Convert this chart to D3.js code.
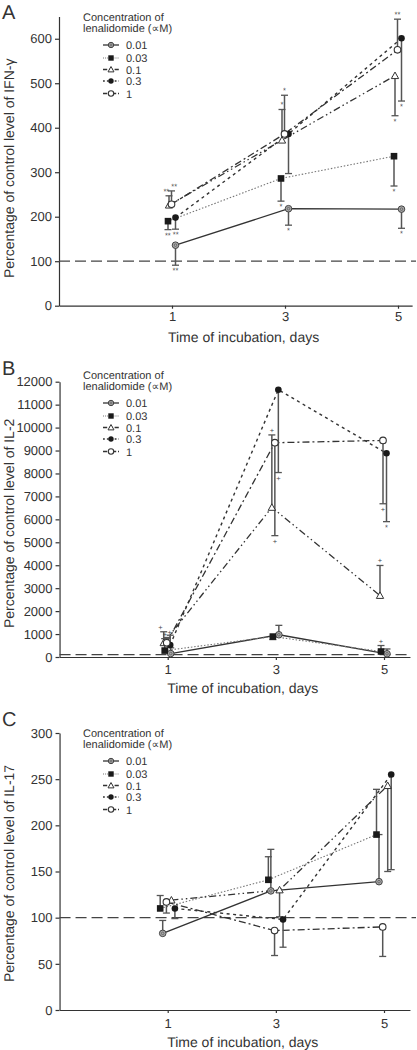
<!DOCTYPE html>
<html>
<head>
<meta charset="utf-8">
<script src="https://cdn.jsdelivr.net/npm/d3@7"></script>
<style>
  html, body { margin: 0; padding: 0; background: #fff; }
  svg { display: block; font-family: "Liberation Sans", Arial, sans-serif; }
  text { text-rendering: geometricPrecision; }
  .sig { opacity: 0.99; }
</style>
</head>
<body>
<svg id="chart" width="417" height="1050"></svg>
<script>
// ---------------- DATA ----------------
const days = [1, 3, 5];
const concentrations = ["0.01", "0.03", "0.1", "0.3", "1"];
const legendTitle = ["Concentration of", "lenalidomide (\u221DM)"];
const xTitle = "Time of incubation, days";

// Panel A: IFN-gamma (rows follow concentrations, columns follow days)
const ifnValues = [[136, 218, 217], [190, 286, 336], [226, 372, 517], [198, 386, 601], [228, 386, 575]];
const ifnErrEnd = [[91, 181, 174], [171, 235, 269], [247, 441, 427], [172, 297, 460], [258, 473, 644]];
const ifnSig = [["**", "*", "*"], ["**", "*", "*"], ["**", "*", "*"], ["**", "", "*"], ["**", "*", "**"]];
const ifnTicks = [0, 100, 200, 300, 400, 500, 600];

// Panel B: IL-2
const il2Values = [[150, 970, 140], [280, 890, 240], [620, 6520, 2680], [520, 11650, 8880], [620, 9340, 9440]];
const il2ErrEnd = [[400, 1380, 350], [800, 760, 500], [1100, 9680, 3990], [950, 8040, 5900], [850, 5290, 6680]];
const il2Sig = [["", "", ""], ["+", "", "+"], ["+", "+", "+"], ["", "+", "*"], ["+", "+", "+"]];
const il2Ticks = [0, 1000, 2000, 3000, 4000, 5000, 6000, 7000, 8000, 9000, 10000, 11000, 12000];

// Panel C: IL-17
const il17Values = [[83, 129, 139], [110, 141, 190], [119, 130, 243], [110, 98, 255], [117, 86, 90]];
const il17ErrEnd = [[97, 174, 190], [124, 166, 239], [null, 101, 150], [99, 68, 152], [105, 59, 58]];
const il17Sig = [["", "", ""], ["", "", ""], ["", "", ""], ["", "", ""], ["", "", ""]];
const il17Ticks = [0, 50, 100, 150, 200, 250, 300];

const controlLevel = 100;

// ---------------- STYLE / LAYOUT ----------------
const ink = "#333";
const seriesStyle = [
  { dash: null, color: "#333", width: 1.3, marker: "gcircle" },
  { dash: "1.5,1.8", color: "#777", width: 1.1, marker: "square" },
  { dash: "7,3,1.5,3,1.5,3", color: "#333", width: 1.3, marker: "triangle" },
  { dash: "3,3.5", color: "#333", width: 1.4, marker: "fcircle" },
  { dash: "7,3,2,3", color: "#333", width: 1.3, marker: "ocircle" }
];

const panels = [
  { letter: "A", letterY: 19, values: ifnValues, err: ifnErrEnd, sig: ifnSig, ticks: ifnTicks,
    yTop: 16.5, yBottom: 305.7, yAtTop: 650, x1: 172, x5: 398, xRightDay: 5.25,
    dodge: [3.5, -4, -3, 3.5, -0.5], legendBase: 0, yLabel: "Percentage of control level of IFN-\u03B3",
    yLabelBottom: 278, tickBase: 321.5, titleBase: 341.5, refRight: 416 },
  { letter: "B", letterY: 375, values: il2Values, err: il2ErrEnd, sig: il2Sig, ticks: il2Ticks,
    yTop: 381.7, yBottom: 657, yAtTop: 12000, x1: 167.7, x5: 384, xRightDay: 5.48,
    dodge: [3, -3, -4, 2.5, -1], legendBase: 358, yLabel: "Percentage of control level of IL-2",
    yLabelBottom: 628, tickBase: 673.5, titleBase: 693, refRight: 410 },
  { letter: "C", letterY: 726, values: il17Values, err: il17ErrEnd, sig: il17Sig, ticks: il17Ticks,
    yTop: 733, yBottom: 1010, yAtTop: 300, x1: 167.7, x5: 384, xRightDay: 5.48,
    dodge: [-5, -7.5, 3.7, 7.2, -1.3], legendBase: 716, yLabel: "Percentage of control level of IL-17",
    yLabelBottom: 982, tickBase: 1028, titleBase: 1046.5, refRight: 416 }
];

const svg = d3.select("#chart");

function drawMarker(g, type, x, y, r) {
  if (type === "gcircle") {
    g.append("circle").attr("cx", x).attr("cy", y).attr("r", r)
      .attr("fill", "#aaa").attr("stroke", "#444").attr("stroke-width", 1);
    g.append("circle").attr("cx", x).attr("cy", y).attr("r", r * 0.4)
      .attr("fill", "none").attr("stroke", "#555").attr("stroke-width", 0.7);
  } else if (type === "square") {
    g.append("rect").attr("x", x - r).attr("y", y - r).attr("width", 2 * r).attr("height", 2 * r)
      .attr("fill", "#1a1a1a");
  } else if (type === "triangle") {
    const s = r * 1.1;
    g.append("path").attr("d", `M${x},${y - s}L${x + s},${y + s * 0.8}L${x - s},${y + s * 0.8}Z`)
      .attr("fill", "#fff").attr("stroke", "#333").attr("stroke-width", 1);
  } else if (type === "fcircle") {
    g.append("circle").attr("cx", x).attr("cy", y).attr("r", r)
      .attr("fill", "#1a1a1a");
  } else {
    g.append("circle").attr("cx", x).attr("cy", y).attr("r", r)
      .attr("fill", "#fff").attr("stroke", "#333").attr("stroke-width", 1.1);
  }
}

panels.forEach(p => {
  const g = svg.append("g");
  const ppd = (p.x5 - p.x1) / 4;
  const xLeft = p.x1 - 2 * ppd;
  const xRight = p.x1 + (p.xRightDay - 1) * ppd;
  const x = d3.scaleLinear().domain([-1, p.xRightDay]).range([xLeft, xRight]);
  const y = d3.scaleLinear().domain([0, p.yAtTop]).range([p.yBottom, p.yTop]);

  // panel letter
  g.append("text").attr("x", 2).attr("y", p.letterY).attr("font-size", 20)
    .attr("fill", ink).text(p.letter);

  // y axis
  const yAxis = d3.axisLeft(y).tickValues(p.ticks).tickSize(4).tickSizeOuter(0).tickPadding(3)
    .tickFormat(d3.format("d"));
  const ya = g.append("g").attr("transform", `translate(${xLeft},0)`).call(yAxis);
  ya.selectAll("text").attr("font-size", 13).attr("fill", ink).attr("font-family", "Liberation Sans, Arial, sans-serif");
  ya.selectAll("line, path").attr("stroke", ink).attr("stroke-width", 1.2);

  // x axis
  const xAxis = d3.axisBottom(x).tickValues(days).tickSize(3).tickSizeOuter(0).tickPadding(5)
    .tickFormat(d3.format("d"));
  const xa = g.append("g").attr("transform", `translate(0,${p.yBottom})`).call(xAxis);
  xa.selectAll("text").attr("font-size", 13).attr("fill", ink).attr("font-family", "Liberation Sans, Arial, sans-serif")
    .attr("dy", null).attr("y", p.tickBase - p.yBottom);
  xa.selectAll("line, path").attr("stroke", ink).attr("stroke-width", 1.2);

  // axis titles
  g.append("text").attr("x", (xLeft + xRight) / 2 + 8).attr("y", p.titleBase)
    .attr("text-anchor", "middle").attr("font-size", 14).attr("fill", ink).text(xTitle);
  g.append("text").attr("transform", `translate(14,${p.yLabelBottom}) rotate(-90)`)
    .attr("text-anchor", "start").attr("font-size", 14).attr("fill", ink).text(p.yLabel);

  // reference line at control level
  g.append("line").attr("x1", xLeft).attr("x2", p.refRight)
    .attr("y1", y(controlLevel)).attr("y2", y(controlLevel))
    .attr("stroke", "#444").attr("stroke-width", 1.3).attr("stroke-dasharray", "11,5");

  const px = (si, di) => x(days[di]) + p.dodge[si];

  // series lines
  concentrations.forEach((c, si) => {
    const st = seriesStyle[si];
    const line = d3.line().x((v, di) => px(si, di)).y(v => y(v));
    g.append("path").attr("d", line(p.values[si])).attr("fill", "none")
      .attr("stroke", st.color).attr("stroke-width", st.width)
      .attr("stroke-dasharray", st.dash);
  });

  // error bars; collect significance marks
  const sigLabels = [];
  concentrations.forEach((c, si) => {
    p.values[si].forEach((v, di) => {
      const e = p.err[si][di];
      if (e === null || e === undefined) return;
      const cx = px(si, di);
      g.append("line").attr("x1", cx).attr("x2", cx).attr("y1", y(v)).attr("y2", y(e))
        .attr("stroke", "#555").attr("stroke-width", 1.5);
      g.append("line").attr("x1", cx - 3.5).attr("x2", cx + 3.5).attr("y1", y(e)).attr("y2", y(e))
        .attr("stroke", "#555").attr("stroke-width", 1.3);
      const s = p.sig[si][di];
      if (s) {
        const up = e > v;
        sigLabels.push({ x: cx, y: up ? y(e) - 2 : y(e) + 8, text: s });
      }
    });
  });

  // spread significance marks that would collide
  sigLabels.sort((a, b) => a.x - b.x);
  for (let iter = 0; iter < 5; iter++) {
    for (let i = 0; i < sigLabels.length; i++) {
      for (let j = i + 1; j < sigLabels.length; j++) {
        const a = sigLabels[i], b = sigLabels[j];
        const minDx = (a.text.length + b.text.length) * 1.6 + 1.5;
        if (Math.abs(a.y - b.y) < 7 && Math.abs(b.x - a.x) < minDx) {
          const shift = (minDx - Math.abs(b.x - a.x)) / 2;
          a.x -= shift; b.x += shift;
        }
      }
    }
  }
  sigLabels.forEach(l => {
    g.append("text").attr("class", "sig").attr("x", l.x).attr("y", l.y)
      .attr("text-anchor", "middle").attr("font-size", 7.5).attr("fill", "#444").text(l.text);
  });

  // markers
  concentrations.forEach((c, si) => {
    p.values[si].forEach((v, di) => {
      drawMarker(g, seriesStyle[si].marker, px(si, di), y(v), 3.3);
    });
  });

  // legend
  const lb = p.legendBase;
  g.append("text").attr("x", 83).attr("y", lb + 20.7).attr("font-size", 11).attr("fill", ink).text(legendTitle[0]);
  g.append("text").attr("x", 83).attr("y", lb + 31.5).attr("font-size", 11).attr("fill", ink).text(legendTitle[1]);
  const entryY = [45, 58, 69.5, 81, 93.5];
  concentrations.forEach((c, si) => {
    const st = seriesStyle[si];
    const ly = lb + entryY[si];
    g.append("line").attr("x1", 103).attr("x2", 119).attr("y1", ly).attr("y2", ly)
      .attr("stroke", st.color).attr("stroke-width", st.width)
      .attr("stroke-dasharray", st.dash ? st.dash.split(",").map(d => Math.max(1, +d * 0.6)).join(",") : null);
    drawMarker(g, st.marker, 111, ly, 2.7);
    g.append("text").attr("x", 126).attr("y", ly + 4).attr("font-size", 11).attr("fill", ink).text(c);
  });
});
</script>
</body>
</html>
